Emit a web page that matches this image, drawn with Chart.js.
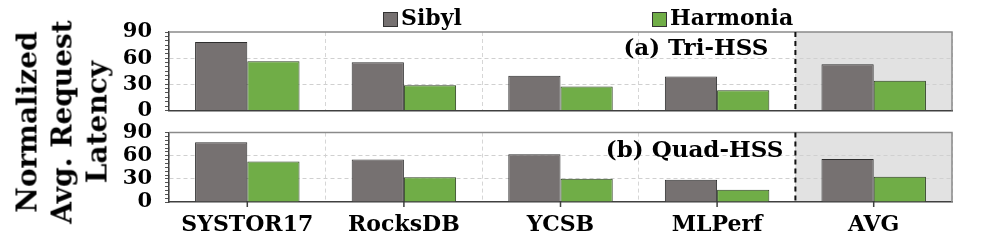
<!DOCTYPE html>
<html>
<head>
<meta charset="utf-8">
<script src="https://cdn.jsdelivr.net/npm/chart.js@4.4.1/dist/chart.umd.min.js"></script>
<style>
  body { margin: 0; background: #fff; }
  #wrap { position: relative; width: 997px; height: 241px; overflow: hidden; font-family: "DejaVu Serif", serif; font-weight: bold; }
  canvas { position: absolute; left: 0; }
  #ytitle { position: absolute; left: 62px; top: 122px; transform: translate(-50%, -50%) rotate(-90deg);
    font-size: 28px; line-height: 35px; text-align: center; white-space: nowrap; }
  .lg-box { position: absolute; top: 12px; width: 13px; height: 13px; border: 1px solid #333; }
  .lg-text { position: absolute; top: 4px; font-size: 22px; line-height: 26px; }
</style>
</head>
<body>
<div id="wrap">
  <canvas id="top" width="997" height="136" style="top:0"></canvas>
  <canvas id="bottom" width="997" height="134" style="top:107px"></canvas>
  <div id="ytitle">Normalized<br>Avg. Request<br>Latency</div>
  <div class="lg-box" style="left:383px;background:#767171"></div>
  <div class="lg-text" style="left:401px">Sibyl</div>
  <div class="lg-box" style="left:652px;background:#70ad47"></div>
  <div class="lg-text" style="left:670px">Harmonia</div>
</div>
<script>
const categories = ["SYSTOR17", "RocksDB", "YCSB", "MLPerf", "AVG"];
const sibylTri = [78.4, 55.2, 39.8, 39.0, 53.1];
const harmoniaTri = [56.4, 29.0, 27.4, 23.2, 34.0];
const sibylQuad = [77.4, 55.0, 61.9, 29.0, 55.8];
const harmoniaQuad = [52.4, 32.0, 30.3, 16.0, 32.7];
const yTicks = [0, 30, 60, 90];

const serif = "DejaVu Serif";

// shaded AVG area, dashed separator, frame and panel label
const panelPlugin = {
  id: "panel",
  beforeDraw(chart) {
    const { ctx, chartArea: a, scales: { x } } = chart;
    const sep = x.getPixelForValue(3.5);
    ctx.save();
    ctx.fillStyle = "#e2e2e2";
    ctx.fillRect(sep, a.top, a.right - sep, a.bottom - a.top);
    ctx.restore();
  },
  afterDatasetsDraw(chart, args, opts) {
    const { ctx, chartArea: a, scales: { x } } = chart;
    const sep = x.getPixelForValue(3.5);
    ctx.save();
    // frame top / right
    ctx.strokeStyle = "#8a8a8a";
    ctx.lineWidth = 1.5;
    ctx.beginPath();
    ctx.moveTo(a.left, a.top);
    ctx.lineTo(a.right, a.top);
    ctx.lineTo(a.right, a.bottom);
    ctx.stroke();
    // dashed separator
    ctx.strokeStyle = "#111";
    ctx.lineWidth = 2;
    ctx.setLineDash([5, 4]);
    ctx.beginPath();
    ctx.moveTo(sep, a.top);
    ctx.lineTo(sep, a.bottom);
    ctx.stroke();
    ctx.setLineDash([]);
    // x tick marks at category centres
    if (opts.ticks) {
      ctx.strokeStyle = "#404040";
      ctx.lineWidth = 1.5;
      ctx.beginPath();
      categories.forEach((c, i) => {
        const px = x.getPixelForValue(i);
        ctx.moveTo(px, a.bottom);
        ctx.lineTo(px, a.bottom + 5);
      });
      ctx.stroke();
    }
    // panel label
    ctx.fillStyle = "#000";
    ctx.font = "bold 23px '" + serif + "'";
    ctx.textAlign = "right";
    ctx.textBaseline = "alphabetic";
    ctx.fillText(opts.label, sep - opts.gap, a.top + opts.dy);
    ctx.restore();
  }
};

function makeChart(id, sibyl, harmonia, label, showX, gap, dy) {
  return new Chart(document.getElementById(id), {
    type: "bar",
    data: {
      labels: categories,
      datasets: [
        { label: "Sibyl", data: sibyl, backgroundColor: "#767171", borderColor: "#2e2e2e", borderWidth: 1 },
        { label: "Harmonia", data: harmonia, backgroundColor: "#70ad47", borderColor: "#2b3f1f", borderWidth: 1 }
      ]
    },
    options: {
      responsive: false,
      animation: false,
      devicePixelRatio: 1,
      layout: { padding: showX ? { top: 20, right: 45, bottom: 0, left: 0 } : { top: 32, right: 45, bottom: 2, left: 0 } },
      datasets: { bar: { categoryPercentage: 0.667, barPercentage: 1.0 } },
      plugins: {
        legend: { display: false },
        tooltip: { enabled: false },
        panel: { label: label, ticks: showX, gap: gap, dy: dy }
      },
      scales: {
        x: {
          grid: { color: "#d6d6d6", lineWidth: 1, drawTicks: false },
          border: { color: "#404040", width: 1.5, dash: [4, 3] },
          ticks: {
            display: showX,
            padding: 10,
            color: "#000",
            font: { family: serif, weight: "bold", size: 22 }
          },
          afterFit: s => { s.height = showX ? 39 : 0; }
        },
        y: {
          min: 0,
          max: 90,
          grid: {
            color: c => (c.tick && (c.tick.value === 30 || c.tick.value === 60)) ? "#d0d0d0" : "transparent",
            tickColor: "#555",
            tickLength: 4,
            tickBorderDash: []
          },
          border: { color: "#404040", width: 1.5, dash: [4, 3] },
          ticks: {
            stepSize: 5,
            autoSkip: false,
            padding: 13,
            color: "#000",
            font: { family: serif, weight: "bold", size: 21 },
            callback: v => yTicks.includes(v) ? v : ""
          },
          afterFit: s => { s.width = 169; }
        }
      }
    },
    plugins: [panelPlugin]
  });
}

makeChart("top", sibylTri, harmoniaTri, "(a) Tri-HSS", false, 27, 23);
makeChart("bottom", sibylQuad, harmoniaQuad, "(b) Quad-HSS", true, 12, 24);
</script>
</body>
</html>
